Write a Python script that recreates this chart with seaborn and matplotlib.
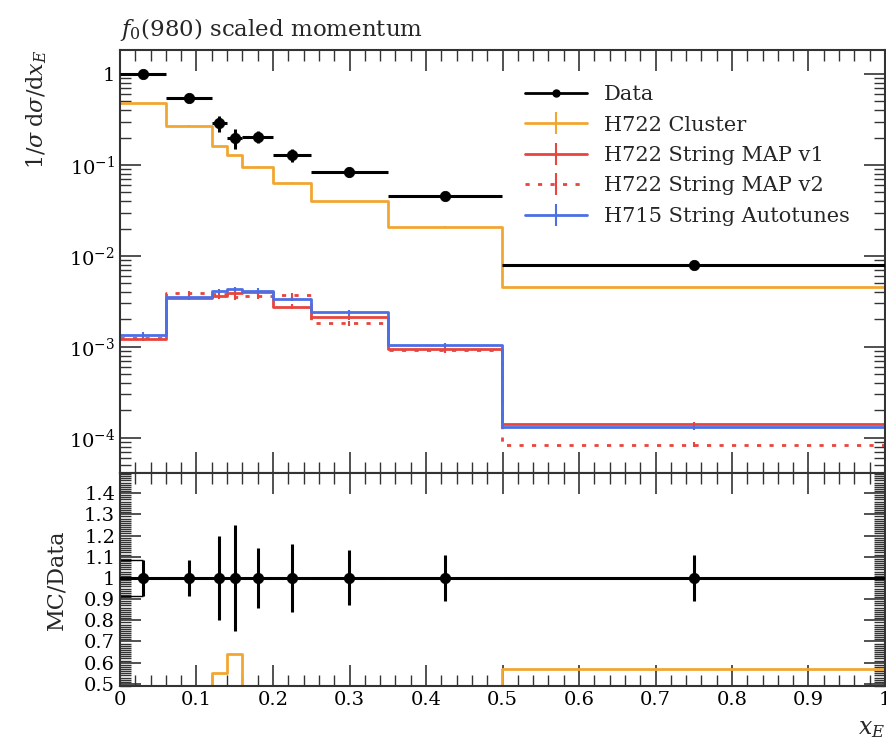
import numpy as np
import pandas as pd
import matplotlib
matplotlib.use("Agg")
import matplotlib.pyplot as plt
import seaborn as sns
from matplotlib.lines import Line2D
from matplotlib.ticker import (LogLocator, MultipleLocator, NullFormatter,
                               FuncFormatter)

# ---- binning and values -------------------------------------------------
edges = [0.0, 0.06, 0.12, 0.14, 0.16, 0.20, 0.25, 0.35, 0.50, 1.00]
data_y = [1.0, 0.55, 0.29, 0.20, 0.205, 0.13, 0.084, 0.046, 0.0080]
data_relerr = [0.085, 0.085, 0.20, 0.25, 0.14, 0.16, 0.13, 0.11, 0.11]
cluster = [0.48, 0.27, 0.16, 0.128, 0.096, 0.064, 0.040, 0.021, 0.00456]
map_v1 = [1.22e-3, 3.45e-3, 3.6e-3, 3.95e-3, 4.0e-3, 2.77e-3, 2.12e-3, 0.94e-3, 1.41e-4]
map_v2 = [1.25e-3, 3.9e-3, 3.8e-3, 3.5e-3, 3.6e-3, 3.7e-3, 1.82e-3, 0.92e-3, 8.4e-5]
autotunes = [1.36e-3, 3.5e-3, 4.1e-3, 4.3e-3, 4.15e-3, 3.37e-3, 2.4e-3, 1.05e-3, 1.3e-4]
mc_relerr = [0.01, 0.06, 0.06, 0.06]

labels = ["Data", "H722 Cluster", "H722 String MAP v1",
          "H722 String MAP v2", "H715 String Autotunes"]
c_orange = "#f2a632"
c_red = "#e8453c"
c_blue = "#4d6fe6"

sns.set_theme(style="ticks")
plt.rcParams["font.family"] = ["DejaVu Serif"]
plt.rcParams["mathtext.fontset"] = "dejavuserif"

edges_a = np.array(edges)
centers = 0.5 * (edges_a[1:] + edges_a[:-1])
halfw = 0.5 * (edges_a[1:] - edges_a[:-1])
data_a = np.array(data_y)
derr = np.array(data_relerr)

fig = plt.figure(figsize=(8.87, 7.47), dpi=100)
W, H = 887, 747
ax1 = fig.add_axes([120 / W, 1 - 473 / H, 765 / W, 423 / H])
ax2 = fig.add_axes([120 / W, 1 - 686 / H, 765 / W, 213 / H], sharex=ax1)


def step_frame(vals):
    vals = list(vals)
    return pd.DataFrame({"x": edges, "y": vals + [vals[-1]]})


def draw_mc(ax, vals, color, ls, relerr, ratio=False):
    vals = np.array(vals)
    if ratio:
        vals = vals / data_a
    sns.lineplot(data=step_frame(vals), x="x", y="y", ax=ax, color=color,
                 lw=2, ls=ls, drawstyle="steps-post", estimator=None,
                 sort=False, legend=False)
    if not ratio:
        ax.errorbar(centers, vals, yerr=vals * relerr, fmt="none",
                    ecolor=color, elinewidth=1.5, capsize=0)


series = [(cluster, c_orange, "-"), (map_v1, c_red, "-"),
          (map_v2, c_red, (0, (1.5, 3))), (autotunes, c_blue, "-")]

# ---- main panel ---------------------------------------------------------
for (vals, col, ls), err in zip(series, mc_relerr):
    draw_mc(ax1, vals, col, ls, err)
ax1.errorbar(centers, data_a, yerr=data_a * derr, xerr=halfw, fmt="none",
             ecolor="black", elinewidth=2.2, capsize=0, zorder=5)
sns.scatterplot(x=centers, y=data_a, ax=ax1, color="black", s=55,
                edgecolor="black", zorder=6, legend=False)

ax1.set_yscale("log")
ax1.set_ylim(4.1e-5, 1.84)
ax1.set_xlim(0, 1)


def log_fmt(v, pos):
    e = int(round(np.log10(v)))
    return "1" if e == 0 else r"$10^{%d}$" % e


ax1.yaxis.set_major_locator(LogLocator(base=10, numticks=10))
ax1.yaxis.set_minor_locator(LogLocator(base=10, subs=np.arange(2, 10), numticks=20))
ax1.yaxis.set_major_formatter(FuncFormatter(log_fmt))
ax1.yaxis.set_minor_formatter(NullFormatter())
ax1.tick_params(axis="x", labelbottom=False)
ax1.set_xlabel("")
ax1.set_ylabel(r"$1/\sigma\;\mathrm{d}\sigma/\mathrm{d}x_E$", loc="top",
               fontsize=16, labelpad=14)
ax1.set_title(r"$f_0$(980) scaled momentum", loc="left", fontsize=16.5, pad=10)

handles = [Line2D([], [], color="black", lw=2, marker="o", ms=5)]
for _, col, ls in series:
    handles.append(Line2D([], [], color=col, lw=2, ls=ls, marker="|",
                          ms=16, markeredgewidth=1.5))
ax1.legend(handles, labels, loc="upper left", bbox_to_anchor=(0.529, 0.917),
           frameon=False, fontsize=15, handlelength=3.0, handletextpad=0.8,
           labelspacing=0.55, borderpad=0, borderaxespad=0)

# ---- ratio panel --------------------------------------------------------
for (vals, col, ls), err in zip(series, mc_relerr):
    draw_mc(ax2, vals, col, ls, err, ratio=True)
ax2.axhline(1.0, color="black", lw=2, zorder=4)
ax2.errorbar(centers, np.ones_like(centers), yerr=derr, xerr=halfw, fmt="none",
             ecolor="black", elinewidth=2.2, capsize=0, zorder=5)
sns.scatterplot(x=centers, y=np.ones_like(centers), ax=ax2, color="black",
                s=55, edgecolor="black", zorder=6, legend=False)
ax2.hlines([1 - derr[0], 1 + derr[0]], 0, centers[0], color="black", lw=1)

ax2.set_ylim(0.49, 1.495)
ax2.set_xlim(0, 1)
ax2.yaxis.set_major_locator(MultipleLocator(0.1))
ax2.yaxis.set_minor_locator(MultipleLocator(0.01))
ax2.yaxis.set_major_formatter(FuncFormatter(lambda v, p: "%g" % round(v, 2)))
ax2.set_ylabel("MC/Data", fontsize=16, labelpad=12)
ax2.xaxis.set_major_formatter(FuncFormatter(lambda v, p: "%g" % round(v, 2)))
ax2.set_xlabel(r"$x_E$", loc="right", fontsize=17, labelpad=6)

for ax in (ax1, ax2):
    ax.xaxis.set_major_locator(MultipleLocator(0.1))
    ax.xaxis.set_minor_locator(MultipleLocator(0.02))
    ax.tick_params(which="both", direction="in", top=True, right=True,
                   colors="#333333", labelcolor="black", labelsize=14)
    ax.tick_params(which="major", length=15, width=1.2)
    ax.tick_params(which="minor", length=8, width=1.0)
    for sp in ax.spines.values():
        sp.set_linewidth(1.5)
        sp.set_color("#333333")

fig.savefig("out.png", dpi=100)
